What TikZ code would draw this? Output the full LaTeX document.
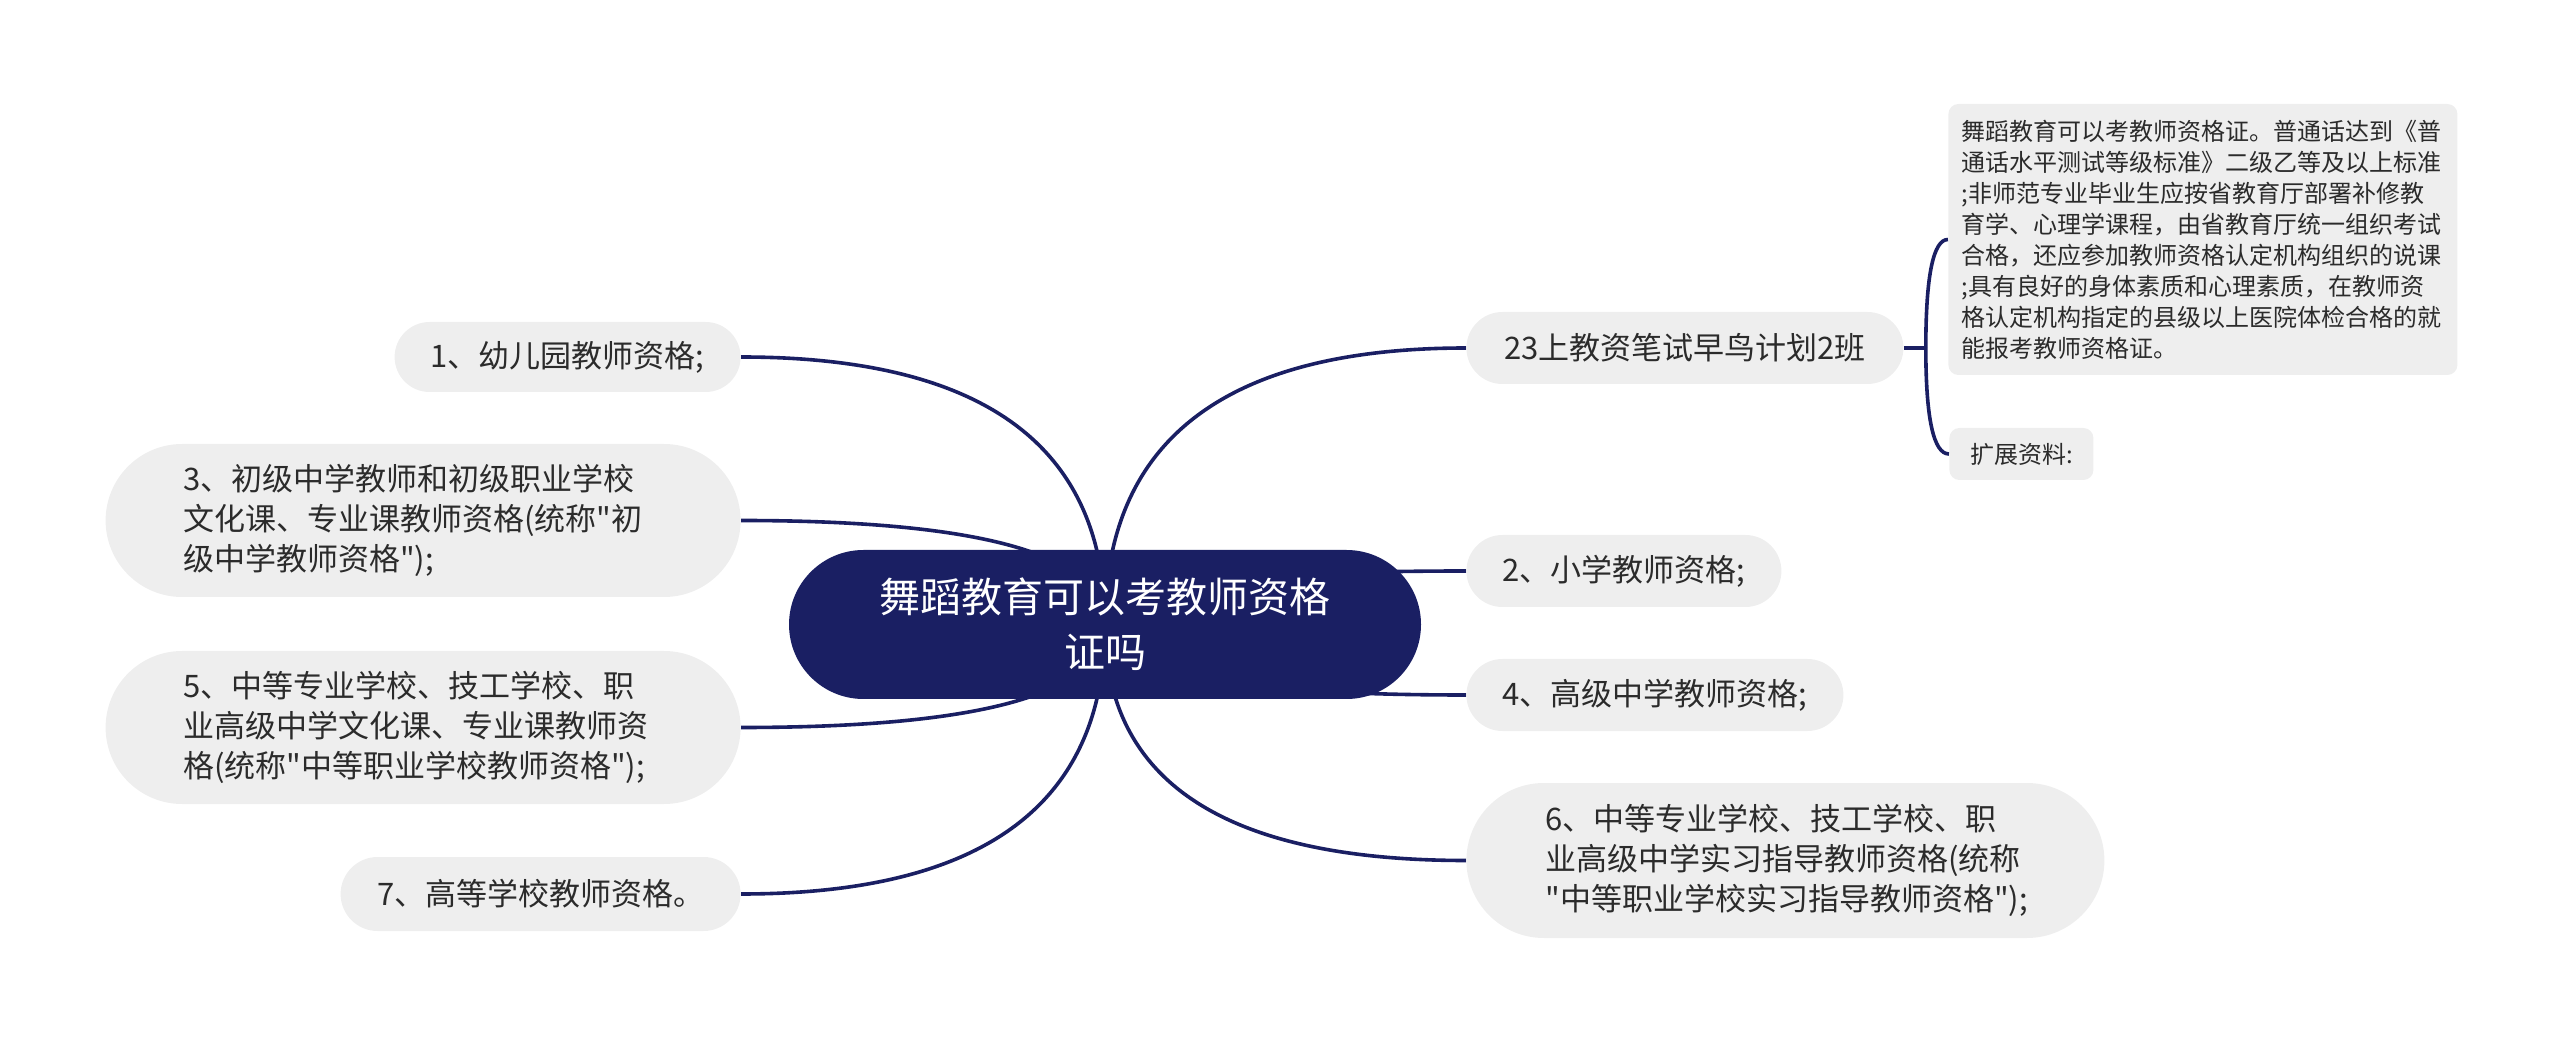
\documentclass[tikz,border=0pt]{standalone}
\usepackage{fontspec}
\setmainfont{Noto Sans CJK SC}[Ligatures=TeXOff]
\usetikzlibrary{shapes.misc,backgrounds,calc}
\definecolor{navy}{HTML}{1A1F63}
\definecolor{leafgray}{HTML}{EEEEEE}
\definecolor{inkgray}{HTML}{2B2B2B}

\begin{document}
\begin{tikzpicture}[x=0.5pt,y=-0.5pt,
    root node/.style={rounded rectangle,fill=navy,text=white,inner sep=0pt,align=center,font=\fontsize{20.5}{27.5}\selectfont},
    leaf node/.style={rounded rectangle,fill=leafgray,text=inkgray,inner sep=0pt,font=\fontsize{15.5}{20}\selectfont},
    note node/.style={rectangle,rounded corners=5pt,fill=leafgray,text=inkgray,inner sep=0pt,align=left,font=\fontsize{12}{15.5}\selectfont},
    link/.style={draw=navy,line width=1.8pt,to path={.. controls ($(\tikztostart)!2/3!(\tikztostart |- \tikztotarget)$) and ($(\tikztotarget)!2/3!(\tikztostart |- \tikztotarget)$) .. (\tikztotarget)}}]

            \useasboundingbox (0,0) rectangle (2560,1042);

            \node[root node, minimum width=316pt, minimum height=74.5pt] (0) at (1105,624.5) {舞蹈教育可以考教师资格\\证吗};

            \node[leaf node, anchor=east, minimum width=173pt, minimum height=35pt] (1) at (741,357) {1、幼儿园教师资格;};
            \node[leaf node, anchor=east, minimum width=317.5pt, minimum height=76.5pt, align=left, text width=240pt] (3) at (741,520.5) {3、初级中学教师和初级职业学校\\文化课、专业课教师资格(统称"初\\级中学教师资格");};
            \node[leaf node, anchor=east, minimum width=317.5pt, minimum height=76.5pt, align=left, text width=240pt] (5) at (741,727.5) {5、中等专业学校、技工学校、职\\业高级中学文化课、专业课教师资\\格(统称"中等职业学校教师资格");};
            \node[leaf node, anchor=east, minimum width=200pt, minimum height=37pt] (7) at (741,894) {7、高等学校教师资格。};

            \node[leaf node, anchor=west, minimum width=218.5pt, minimum height=36pt] (a) at (1466,348) {23上教资笔试早鸟计划2班};
            \node[leaf node, anchor=west, minimum width=157.5pt, minimum height=36pt] (2) at (1466,571) {2、小学教师资格;};
            \node[leaf node, anchor=west, minimum width=188.5pt, minimum height=36pt] (4) at (1466,695) {4、高级中学教师资格;};
            \node[leaf node, anchor=west, minimum width=319pt, minimum height=77.5pt, align=left, text width=240pt] (6) at (1466,860.5) {6、中等专业学校、技工学校、职\\业高级中学实习指导教师资格(统称\\"中等职业学校实习指导教师资格");};

            \node[note node, anchor=west, minimum width=254.5pt, minimum height=135.5pt, text width=241pt] (d) at (1948,239.5) {舞蹈教育可以考教师资格证。普通话达到《普\\通话水平测试等级标准》二级乙等及以上标准\\;非师范专业毕业生应按省教育厅部署补修教\\育学、心理学课程，由省教育厅统一组织考试\\合格，还应参加教师资格认定机构组织的说课\\;具有良好的身体素质和心理素质，在教师资\\格认定机构指定的县级以上医院体检合格的就\\能报考教师资格证。};
            \node[note node, anchor=west, minimum width=72pt, minimum height=26pt] (e) at (1949,454) {扩展资料:};

            \coordinate (j) at ([xshift=11pt]a.east);

            \begin{scope}[on background layer]
            \path[every edge/.style={link}]
                (0.center) edge (1.east)
                (0.center) edge (3.east)
                (0.center) edge (5.east)
                (0.center) edge (7.east)
                (0.center) edge (a.west)
                (0.center) edge (2.west)
                (0.center) edge (4.west)
                (0.center) edge (6.west)
                (j) edge (d.west)
                (j) edge (e.west)
            ;
            \draw[navy, line width=1.8pt] (a.east) -- (j);
            \end{scope}
        \end{tikzpicture}
\end{document}
